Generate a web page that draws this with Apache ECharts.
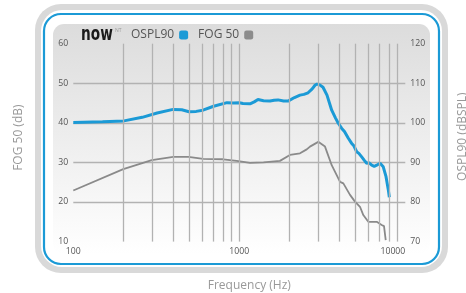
<!DOCTYPE html>
<html>
<head>
<meta charset="utf-8">
<script src="https://cdn.jsdelivr.net/npm/echarts@6/dist/echarts.min.js"></script>
<style>
  html, body { margin: 0; padding: 0; background: #fff; }
  #chart { width: 466px; height: 293px; }
</style>
</head>
<body>
<div id="chart"></div>
<script>
// OSPL90 (right axis, dBSPL)
var osplFreq = [100, 150, 202, 260, 320, 399, 450, 498, 550, 604, 700, 843, 920, 1000, 1052, 1160, 1230, 1296, 1400, 1531, 1620,
  1711, 1850, 1965, 2150, 2321, 2450, 2596, 2750, 2857, 2938, 3050, 3193, 3375, 3603, 3800, 3948, 4140, 4300, 4538, 4754,
  4900, 5095, 5250, 5462, 5650, 5853, 6050, 6278, 6500, 6728, 6900, 7043, 7200, 7366, 7654, 7907, 8014];
var osplVals = [100.1, 100.3, 100.5, 101.4, 102.5, 103.4, 103.3, 102.8, 102.9, 103.2, 104.2, 105.1, 105.0, 105.1, 104.9, 104.8, 105.3, 105.9, 105.6, 105.5, 105.7,
  105.8, 105.5, 105.5, 106.4, 107.0, 107.2, 107.6, 108.6, 109.5, 109.8, 109.6, 109.0, 107.0, 103.2, 101.2, 99.9, 98.6, 97.8, 96.1, 94.8,
  94.2, 92.7, 92.3, 91.4, 90.6, 89.8, 89.9, 89.3, 89.0, 89.3, 89.2, 89.8, 89.5, 88.9, 86.4, 83.0, 81.2];

// FOG 50 (left axis, dB)
var fogFreq = [100, 200, 297, 400, 494, 606, 800, 964, 1160, 1400, 1758, 2018, 2321, 2548, 2666, 2990, 3283, 3603,
  4045, 4234, 4645, 4977, 5334, 5585, 5986, 6127, 6728, 7206, 7443, 7621];
var fogVals = [22.9, 28.3, 30.6, 31.4, 31.4, 30.9, 30.8, 30.4, 29.9, 30.0, 30.4, 31.9, 32.3, 33.3, 34.0, 35.2, 34.0, 29.3,
  25.1, 24.7, 21.8, 20.1, 18.8, 16.7, 15.0, 15.0, 15.0, 14.2, 13.9, 10.4];

// vertical grid lines
var freqGrid = [200, 300, 400, 500, 600, 700, 800, 900, 1000, 2000, 3000, 4000, 5000, 6000, 7000, 8000, 9000];

function pairs(xs, ys) {
  return xs.map(function (x, i) { return [x, ys[i]]; });
}

var gridColor = '#b2b2b2';
var labelStyle = { fontFamily: 'Open Sans', fontSize: 8.7, color: '#555' };
var nameStyle = { fontFamily: 'Open Sans', fontSize: 12, color: '#999' };

var myChart = echarts.init(document.getElementById('chart'));
myChart.setOption({
  animation: false,
  graphic: [
    { type: 'rect', z: -10, shape: { x: 35, y: 4, width: 413, height: 269, r: 26 }, style: { fill: '#d9d9d9' } },
    { type: 'rect', z: -10, shape: { x: 41, y: 10, width: 401, height: 257, r: 21 }, style: { fill: '#fff' } },
    { type: 'rect', z: -10, shape: { x: 44, y: 14, width: 395, height: 250, r: 17 },
      style: { fill: '#fff', stroke: '#1b9ad6', lineWidth: 2.2 } },
    { type: 'rect', z: -10, shape: { x: 53, y: 24, width: 377, height: 230, r: 11 },
      style: { fill: new echarts.graphic.LinearGradient(0, 0, 0, 1, [
        { offset: 0, color: '#dcdcdc' }, { offset: 1, color: '#ffffff' }]) } },
    // logo
    { type: 'text', z: 10, x: 81, y: 25, scaleX: 0.76,
      style: { x: 0, y: 0, text: 'now', fill: '#1a1a1a',
        font: 'bold 20px "DejaVu Sans Condensed", "DejaVu Sans", sans-serif', verticalAlign: 'top' } },
    { type: 'text', z: 10, style: { x: 115, y: 28, text: 'NT', fill: '#9a9a9a',
      font: '5px "Open Sans", sans-serif', verticalAlign: 'top' } }
  ],
  legend: {
    left: 131,
    top: 29,
    padding: 0,
    align: 'right',
    itemWidth: 9,
    itemHeight: 9,
    itemGap: 10,
    icon: 'roundRect',
    textStyle: { fontFamily: 'Open Sans', fontSize: 12, color: '#555' },
    data: ['OSPL90', 'FOG 50']
  },
  grid: { left: 73.3, right: 60.7, top: 43.7, bottom: 51.4, outerBoundsMode: 'none' },
  xAxis: {
    type: 'log',
    logBase: 10,
    min: 100,
    max: 10000,
    name: 'Frequency (Hz)',
    nameLocation: 'middle',
    nameGap: 38,
    nameTextStyle: Object.assign({ padding: [0, 0, 0, 20] }, nameStyle),
    axisLine: { show: false },
    axisTick: { show: false },
    splitLine: { show: false },
    axisLabel: Object.assign({
      margin: 5,
      alignMaxLabel: 'right',
      formatter: function (v) { return String(v); }
    }, labelStyle)
  },
  yAxis: [
    {
      type: 'value',
      min: 10,
      max: 60,
      interval: 10,
      name: 'FOG 50 (dB)',
      nameLocation: 'middle',
      nameGap: 49,
      nameTextStyle: Object.assign({ padding: [0, 0, 0, 10] }, nameStyle),
      axisLine: { show: false },
      axisTick: { show: false },
      axisLabel: Object.assign({ margin: 5 }, labelStyle),
      splitLine: { lineStyle: { width: 1.3, color: ['transparent', gridColor, gridColor, gridColor, gridColor, 'transparent'] } }
    },
    {
      type: 'value',
      min: 70,
      max: 120,
      interval: 10,
      position: 'right',
      name: 'OSPL90 (dBSPL)',
      nameLocation: 'middle',
      nameGap: 51,
      nameTextStyle: Object.assign({ padding: [0, 0, 0, 12] }, nameStyle),
      axisLine: { show: false },
      axisTick: { show: false },
      axisLabel: Object.assign({ margin: 5 }, labelStyle),
      splitLine: { show: false }
    }
  ],
  series: [
    {
      name: 'grid',
      type: 'line',
      z: 1,
      data: [],
      markLine: {
        silent: true,
        symbol: 'none',
        label: { show: false },
        lineStyle: { color: gridColor, width: 1.3, type: 'solid' },
        data: freqGrid.map(function (f) { return { xAxis: f }; })
      }
    },
    {
      name: 'FOG 50',
      type: 'line',
      yAxisIndex: 0,
      z: 3,
      showSymbol: false,
      itemStyle: { color: '#8c8c8c' },
      lineStyle: { color: '#8a8a8a', width: 1.8 },
      data: pairs(fogFreq, fogVals)
    },
    {
      name: 'OSPL90',
      type: 'line',
      yAxisIndex: 1,
      z: 4,
      showSymbol: false,
      itemStyle: { color: '#1b9ad6' },
      lineStyle: { color: '#1b9ad6', width: 3 },
      data: pairs(osplFreq, osplVals)
    }
  ]
});
</script>
</body>
</html>
